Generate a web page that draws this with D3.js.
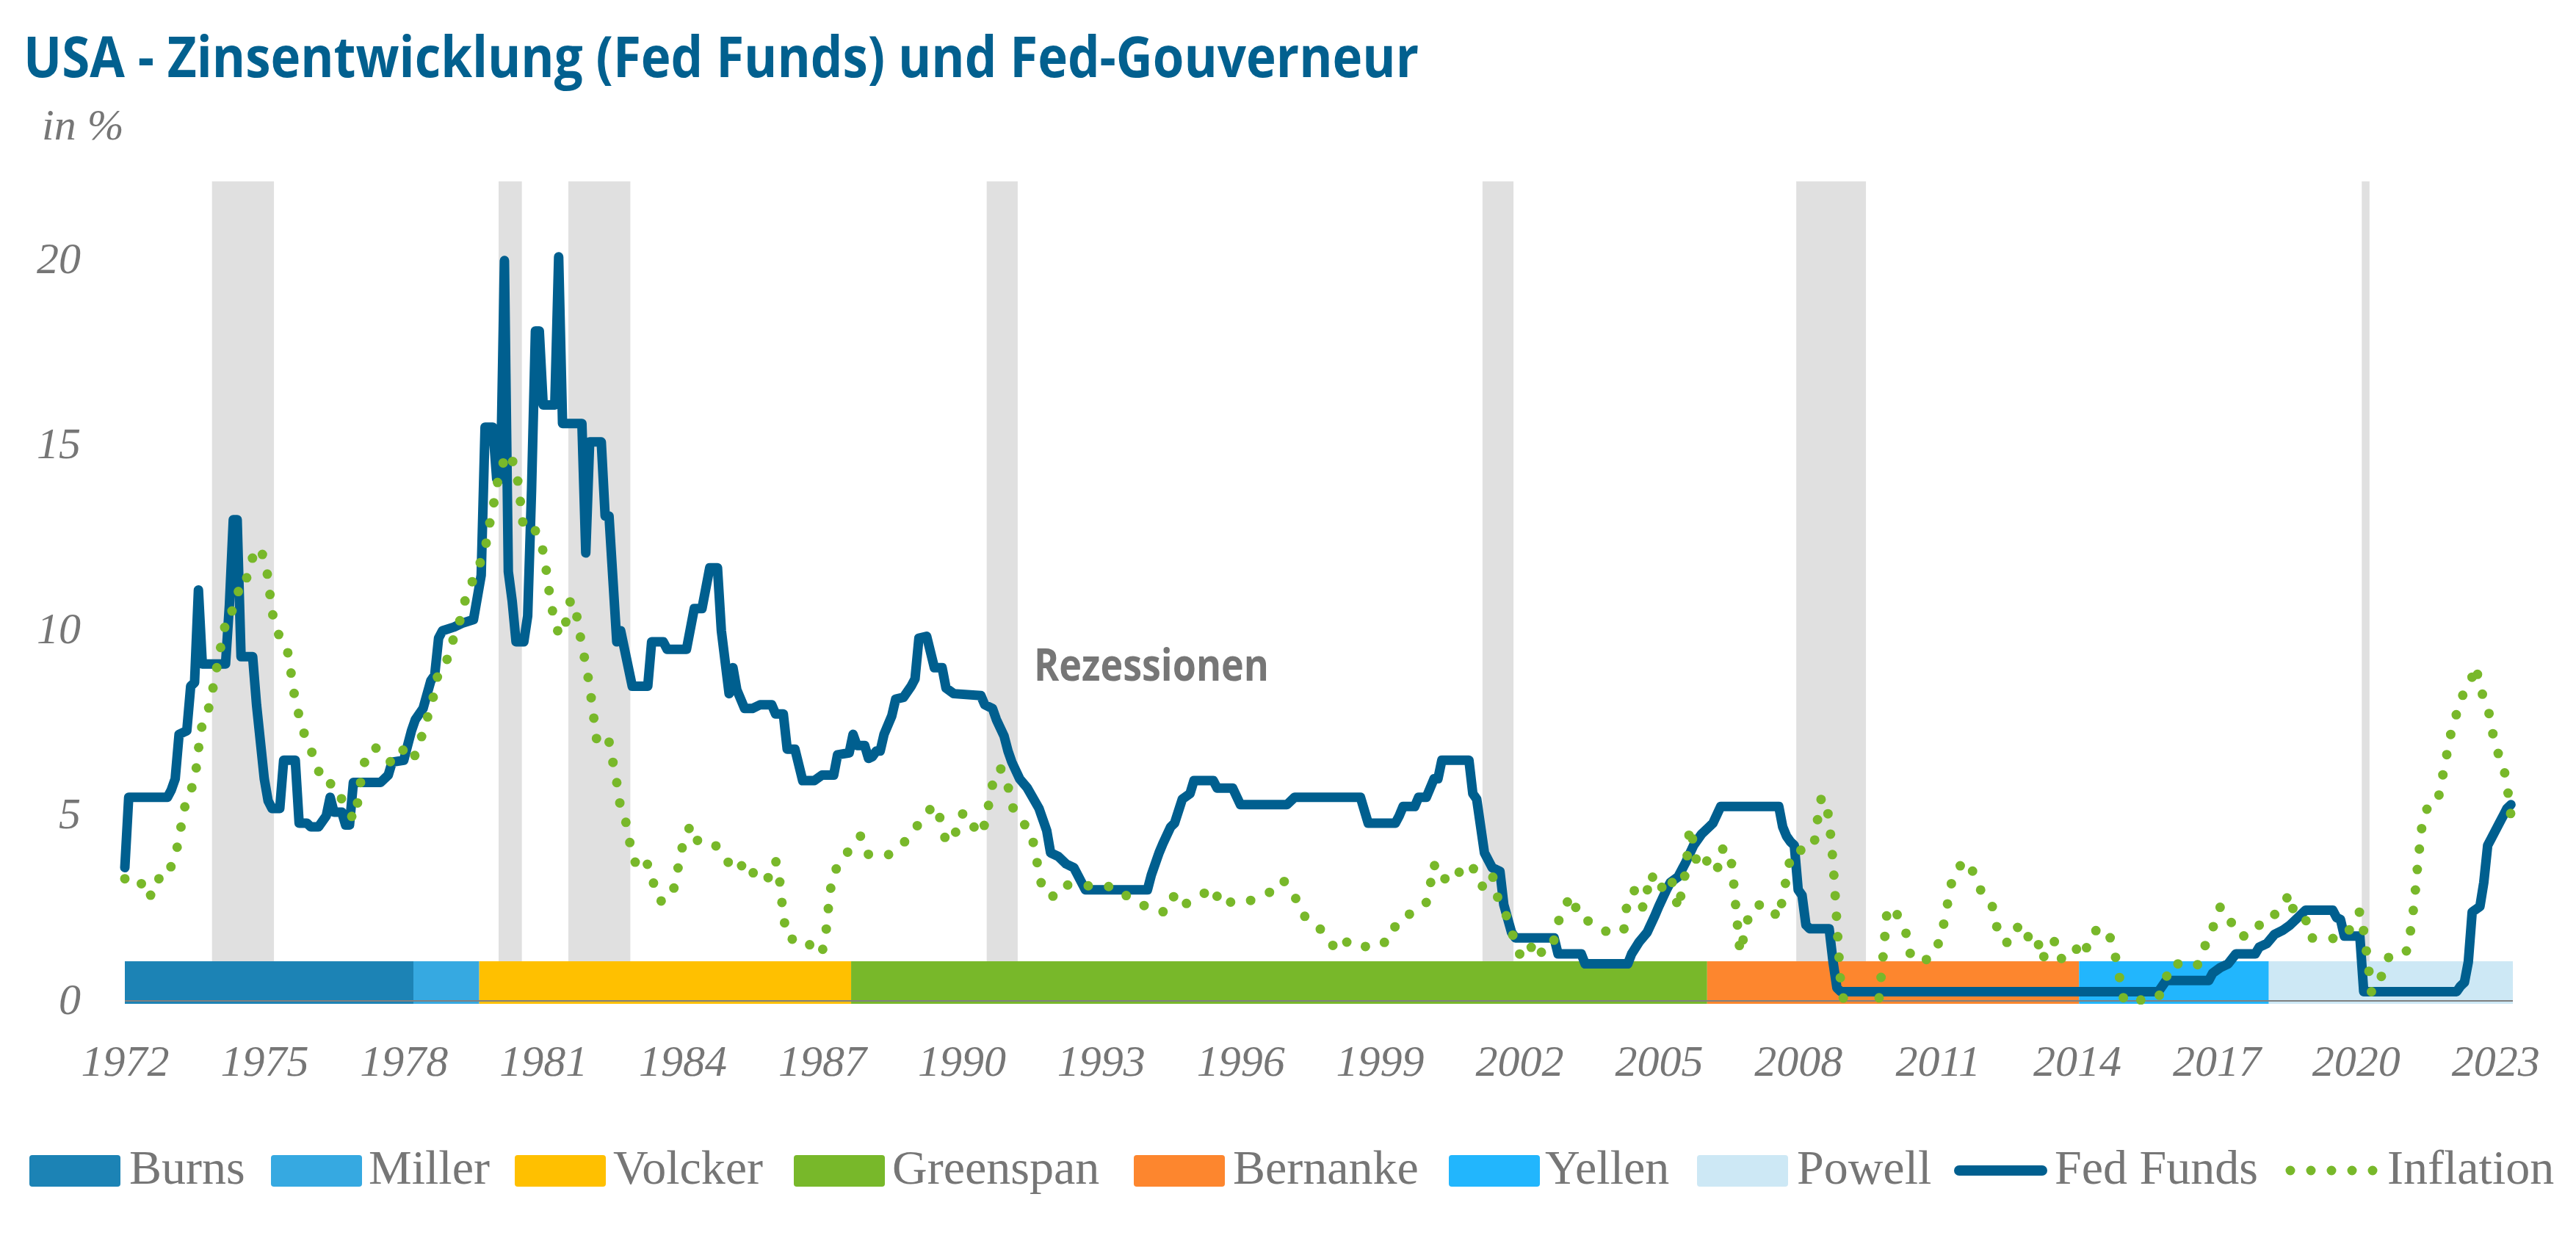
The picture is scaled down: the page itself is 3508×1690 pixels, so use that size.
<!DOCTYPE html>
<html><head><meta charset="utf-8">
<script src="https://cdn.jsdelivr.net/npm/d3@7"></script>
<style>
html,body{margin:0;padding:0;background:#fff;}
svg{display:block;}
</style></head>
<body>
<svg id="chart" width="3508" height="1690"></svg>
<script>
// ---------------- DATA ----------------
const title = "USA - Zinsentwicklung (Fed Funds) und Fed-Gouverneur";
const unitLabel = "in %";
const recessionLabel = "Rezessionen";

const xTickYears = [1972,1975,1978,1981,1984,1987,1990,1993,1996,1999,2002,2005,2008,2011,2014,2017,2020,2023];
const yTicks = [0,5,10,15,20];
const lastMonth = "2023-05";

const governors = ["Burns","Miller","Volcker","Greenspan","Bernanke","Yellen","Powell"];
const governorStart = ["1972-01","1978-04","1979-09","1987-09","2006-02","2014-02","2018-03"];
const governorColors = ["#1c83b5","#36a9e1","#ffc000","#78b82a","#fd862e","#22b6fd","#cde8f5"];
const governorBand = 1.07;

const recessions = [["1973-12","1975-03"],["1980-02","1980-07"],["1981-08","1982-11"],["1990-08","1991-03"],
                    ["2001-04","2001-11"],["2008-01","2009-06"],["2020-03","2020-04"]];

const fedFunds = [
["1972-01",3.6],["1972-02",5.5],["1972-12",5.5],["1973-01",5.7],["1973-02",6.0],["1973-03",7.2],["1973-05",7.3],
["1973-06",8.5],["1973-07",8.6],["1973-08",11.1],["1973-09",9.1],["1974-03",9.1],["1974-04",10.7],["1974-05",13.0],
["1974-06",13.0],["1974-07",9.3],["1974-10",9.3],["1974-11",8.0],["1974-12",7.0],["1975-01",6.0],["1975-02",5.4],
["1975-03",5.2],["1975-05",5.2],["1975-06",6.5],["1975-09",6.5],["1975-10",4.8],["1975-12",4.8],["1976-01",4.7],
["1976-03",4.7],["1976-05",5.0],["1976-06",5.5],["1976-07",5.1],["1976-09",5.1],["1976-10",4.75],["1976-11",4.75],
["1976-12",5.9],["1977-07",5.9],["1977-09",6.1],["1977-10",6.45],["1978-01",6.5],["1978-03",7.3],["1978-04",7.6],
["1978-06",7.9],["1978-08",8.65],["1978-09",8.8],["1978-10",9.8],["1978-11",10.0],["1979-02",10.1],["1979-04",10.2],
["1979-07",10.3],["1979-08",10.9],["1979-09",11.5],["1979-10",15.5],["1979-12",15.5],["1980-01",14.1],["1980-02",14.1],
["1980-03",20.0],["1980-04",11.6],["1980-05",10.8],["1980-06",9.7],["1980-08",9.7],["1980-09",10.4],["1980-10",13.8],
["1980-11",18.1],["1980-12",18.1],["1981-01",16.1],["1981-04",16.1],["1981-05",20.1],["1981-06",15.6],["1981-11",15.6],
["1981-12",12.1],["1982-01",15.1],["1982-04",15.1],["1982-05",13.1],["1982-06",13.1],["1982-08",9.7],["1982-09",10.0],
["1982-12",8.5],["1983-04",8.5],["1983-05",9.7],["1983-08",9.7],["1983-09",9.5],["1984-02",9.5],["1984-04",10.6],
["1984-06",10.6],["1984-08",11.7],["1984-10",11.7],["1984-11",10.0],["1985-01",8.3],["1985-02",9.0],["1985-03",8.4],
["1985-05",7.9],["1985-07",7.9],["1985-09",8.0],["1985-12",8.0],["1986-01",7.75],["1986-03",7.75],["1986-04",6.8],
["1986-06",6.8],["1986-08",5.95],["1986-11",5.95],["1987-01",6.1],["1987-04",6.1],["1987-05",6.65],["1987-08",6.7],
["1987-09",7.2],["1987-10",6.9],["1987-12",6.9],["1988-01",6.55],["1988-02",6.6],["1988-03",6.75],["1988-04",6.75],
["1988-05",7.2],["1988-07",7.7],["1988-08",8.15],["1988-10",8.2],["1988-12",8.5],["1989-01",8.7],["1989-02",9.8],
["1989-04",9.85],["1989-06",9.0],["1989-08",9.0],["1989-09",8.45],["1989-11",8.3],["1990-06",8.25],["1990-07",8.0],
["1990-09",7.9],["1990-10",7.6],["1990-12",7.15],["1991-01",6.75],["1991-02",6.45],["1991-04",6.0],["1991-06",5.75],
["1991-09",5.2],["1991-11",4.6],["1991-12",4.0],["1992-02",3.9],["1992-04",3.7],["1992-06",3.6],["1992-08",3.2],
["1992-09",3.0],["1994-01",3.0],["1994-02",3.4],["1994-04",4.0],["1994-05",4.25],["1994-07",4.7],["1994-08",4.8],
["1994-10",5.45],["1994-12",5.6],["1995-01",5.95],["1995-06",5.95],["1995-07",5.75],["1995-11",5.75],["1996-01",5.3],
["1997-01",5.3],["1997-03",5.5],["1998-08",5.5],["1998-10",4.8],["1999-05",4.8],["1999-06",5.0],["1999-07",5.25],
["1999-10",5.25],["1999-11",5.5],["2000-01",5.5],["2000-03",6.0],["2000-04",6.0],["2000-05",6.5],["2000-12",6.5],
["2001-01",5.6],["2001-02",5.45],["2001-04",4.0],["2001-06",3.6],["2001-08",3.5],["2001-09",2.6],["2001-11",1.85],
["2001-12",1.7],["2002-10",1.7],["2002-11",1.27],["2003-05",1.27],["2003-06",1.0],["2004-05",1.0],["2004-06",1.27],
["2004-08",1.6],["2004-10",1.85],["2004-12",2.3],["2005-01",2.55],["2005-03",3.0],["2005-04",3.2],["2005-06",3.35],
["2005-08",3.75],["2005-10",4.2],["2005-12",4.5],["2006-02",4.7],["2006-03",4.8],["2006-05",5.25],["2007-08",5.25],
["2007-09",4.7],["2007-10",4.45],["2007-11",4.3],["2007-12",4.2],["2008-01",3.0],["2008-02",2.85],["2008-03",2.05],
["2008-04",1.95],["2008-09",1.95],["2008-10",1.05],["2008-11",0.35],["2008-12",0.25],["2015-10",0.25],["2015-12",0.55],
["2016-11",0.55],["2016-12",0.75],["2017-02",0.9],["2017-04",1.0],["2017-06",1.27],["2017-11",1.27],["2017-12",1.45],
["2018-02",1.55],["2018-04",1.8],["2018-06",1.9],["2018-08",2.05],["2018-10",2.25],["2018-12",2.45],["2019-07",2.45],
["2019-08",2.25],["2019-09",2.2],["2019-10",1.75],["2020-02",1.75],["2020-03",0.25],["2022-03",0.25],["2022-04",0.4],
["2022-05",0.5],["2022-06",1.05],["2022-07",2.4],["2022-09",2.55],["2022-10",3.2],["2022-11",4.2],["2022-12",4.4],
["2023-02",4.8],["2023-03",5.0],["2023-04",5.2],["2023-05",5.3]
];

const inflation = [
["1972-01",3.3],["1972-05",3.3],["1972-06",2.8],["1972-09",2.9],["1972-10",3.4],["1972-12",3.4],["1973-02",3.9],
["1973-03",4.4],["1973-04",5.0],["1973-05",5.5],["1973-07",5.9],["1973-08",6.8],["1973-09",7.5],["1973-11",8.0],
["1973-12",8.6],["1974-01",9.15],["1974-02",9.7],["1974-03",10.2],["1974-04",10.2],["1974-05",10.7],["1974-07",11.25],
["1974-08",11.2],["1974-09",11.7],["1974-11",12.25],["1975-01",12.0],["1975-02",11.4],["1975-03",10.5],["1975-05",9.8],
["1975-07",9.45],["1975-08",8.8],["1975-09",8.1],["1975-10",7.7],["1975-11",7.3],["1976-01",6.8],["1976-03",6.2],
["1976-05",6.2],["1976-07",5.6],["1976-08",5.6],["1976-10",5.3],["1976-12",4.9],["1977-01",5.3],["1977-02",6.0],
["1977-03",6.5],["1977-05",6.85],["1977-07",6.8],["1977-10",6.4],["1978-01",6.8],["1978-03",6.5],["1978-05",6.8],
["1978-06",7.35],["1978-08",7.9],["1978-09",8.4],["1978-10",8.9],["1979-01",9.35],["1979-02",9.9],["1979-04",10.4],
["1979-05",10.9],["1979-07",11.4],["1979-09",11.9],["1979-10",12.2],["1979-11",12.8],["1979-12",13.3],["1980-01",13.9],
["1980-02",14.4],["1980-04",14.8],["1980-06",14.4],["1980-07",13.6],["1980-08",12.7],["1980-11",12.7],["1981-01",12.15],
["1981-02",11.5],["1981-03",10.7],["1981-05",9.9],["1981-06",9.9],["1981-07",10.3],["1981-08",10.8],["1981-09",10.8],
["1981-10",10.2],["1981-11",9.6],["1981-12",9.1],["1982-01",8.5],["1982-02",7.7],["1982-03",6.9],["1982-05",6.9],
["1982-06",7.0],["1982-07",6.45],["1982-08",5.9],["1982-09",5.2],["1982-10",5.0],["1982-11",4.5],["1982-12",3.9],
["1983-02",3.5],["1983-04",3.7],["1983-06",3.0],["1983-07",2.7],["1983-09",2.7],["1983-11",3.1],["1983-12",3.7],
["1984-01",4.2],["1984-03",4.75],["1984-05",4.3],["1984-09",4.26],["1984-12",3.9],["1985-02",3.5],["1985-06",3.77],
["1985-08",3.26],["1985-11",3.31],["1986-01",3.8],["1986-02",3.3],["1986-03",2.3],["1986-04",1.7],["1986-06",1.65],
["1986-09",1.66],["1986-11",1.3],["1987-01",1.3],["1987-02",1.85],["1987-03",2.9],["1987-04",3.5],["1987-06",3.7],
["1987-08",4.1],["1987-11",4.46],["1988-01",3.95],["1988-06",3.94],["1988-09",4.16],["1988-12",4.48],["1989-03",4.96],
["1989-06",5.3],["1989-08",4.8],["1989-09",4.26],["1989-12",4.62],["1990-01",5.05],["1990-03",5.05],["1990-05",4.48],
["1990-07",4.76],["1990-08",5.3],["1990-09",5.84],["1990-11",6.3],["1991-01",5.8],["1991-02",5.27],["1991-04",4.9],
["1991-07",4.58],["1991-08",4.0],["1991-09",3.5],["1991-10",2.94],["1991-12",2.83],["1992-02",2.83],["1992-04",3.13],
["1992-08",3.13],["1993-01",3.07],["1993-04",3.1],["1993-07",2.87],["1993-10",2.73],["1994-02",2.44],["1994-06",2.4],
["1994-08",2.87],["1994-10",2.57],["1995-03",2.86],["1995-06",3.07],["1995-08",2.57],["1995-11",2.69],["1996-02",2.66],
["1996-06",2.79],["1996-09",2.96],["1996-12",3.27],["1997-03",2.84],["1997-05",2.32],["1997-08",2.15],["1997-11",1.76],
["1998-02",1.34],["1998-05",1.64],["1998-10",1.44],["1999-02",1.54],["1999-04",2.0],["1999-06",2.0],["1999-09",2.39],
["2000-01",2.66],["2000-02",3.13],["2000-03",3.7],["2000-04",3.3],["2000-06",3.3],["2000-08",3.58],["2000-11",3.37],
["2001-01",3.61],["2001-03",3.1],["2001-04",3.1],["2001-06",3.44],["2001-07",2.89],["2001-09",2.47],["2001-11",1.95],
["2001-12",1.42],["2002-02",1.14],["2002-04",1.46],["2002-06",1.14],["2002-08",1.64],["2002-10",1.64],["2002-11",2.12],
["2003-01",2.63],["2003-03",2.84],["2003-04",2.29],["2003-08",2.1],["2003-10",1.95],["2004-01",1.8],["2004-04",1.92],
["2004-05",2.8],["2004-07",3.01],["2004-09",2.5],["2004-10",2.97],["2004-11",3.44],["2005-01",2.96],["2005-04",3.37],
["2005-05",3.0],["2005-06",2.47],["2005-07",3.0],["2005-08",3.52],["2005-09",4.7],["2005-10",4.25],["2005-11",3.61],
["2006-01",3.8],["2006-02",3.75],["2006-04",3.47],["2006-05",4.1],["2006-07",4.1],["2006-08",3.6],["2006-09",2.4],
["2006-10",1.3],["2006-11",1.75],["2006-12",2.2],["2007-01",2.2],["2007-03",2.6],["2007-05",2.6],["2007-08",2.23],
["2007-09",2.79],["2007-10",3.33],["2007-11",3.88],["2007-12",4.07],["2008-02",4.07],["2008-05",4.15],["2008-06",4.9],
["2008-07",5.5],["2008-08",5.4],["2008-09",4.9],["2008-10",3.75],["2008-11",2.1],["2008-12",0.4],["2009-01",-0.1],
["2009-04",-0.8],["2009-07",-1.5],["2009-09",-0.8],["2009-10",0.2],["2009-11",1.3],["2009-12",2.5],["2010-02",2.45],
["2010-03",2.23],["2010-05",1.79],["2010-06",1.24],["2010-09",1.04],["2010-12",1.25],["2011-02",1.76],["2011-03",2.32],
["2011-04",2.87],["2011-05",3.41],["2011-08",3.8],["2011-10",3.51],["2011-12",3.01],["2012-03",2.61],["2012-04",2.07],
["2012-06",1.58],["2012-08",1.58],["2012-10",2.07],["2012-12",1.71],["2013-02",1.85],["2013-03",1.54],["2013-04",1.09],
["2013-06",1.6],["2013-08",1.6],["2013-09",1.13],["2013-11",1.13],["2014-01",1.42],["2014-03",1.21],["2014-04",1.73],
["2014-07",2.0],["2014-10",1.65],["2014-11",1.14],["2014-12",0.61],["2015-01",0.06],["2015-03",-0.08],["2015-07",0.09],
["2015-10",0.09],["2015-12",0.61],["2016-01",1.0],["2016-03",1.0],["2016-05",0.95],["2016-08",0.95],["2016-10",1.48],
["2016-12",1.96],["2017-02",2.55],["2017-04",2.33],["2017-06",1.81],["2017-08",1.75],["2017-10",2.03],["2018-02",2.06],
["2018-05",2.47],["2018-08",2.9],["2018-09",2.33],["2018-12",2.22],["2019-01",1.7],["2019-06",1.7],["2019-09",1.66],
["2019-12",2.0],["2020-02",2.42],["2020-03",1.88],["2020-04",1.1],["2020-05",0.24],["2020-07",0.36],["2020-08",0.91],
["2020-10",1.28],["2021-02",1.34],["2021-03",1.83],["2021-04",2.6],["2021-05",3.75],["2021-06",4.7],["2021-07",5.16],
["2021-10",5.33],["2021-11",5.87],["2021-12",6.42],["2022-01",6.95],["2022-02",7.49],["2022-04",8.03],["2022-05",8.43],
["2022-07",8.75],["2022-08",9.05],["2022-09",8.44],["2022-11",7.96],["2022-12",7.4],["2023-01",6.86],["2023-03",6.37],
["2023-04",5.83],["2023-05",5.0]
];

const legendItems = ["Burns","Miller","Volcker","Greenspan","Bernanke","Yellen","Powell","Fed Funds","Inflation"];

// ---------------- CHART ----------------
const monthIndex = s => { const [Y, M] = s.split("-").map(Number); return (Y - 1972) * 12 + (M - 1); };
const lastM = monthIndex(lastMonth);

const svg = d3.select("#chart");
const plotLeft = 170, plotTop = 247, plotBottom = 1363;
const x = d3.scaleLinear().domain([0, lastM + 0.5]).range([plotLeft, 3422]);
const y = d3.scaleLinear().domain([0, 22.14]).range([plotBottom, plotTop]);

const textGray = "#767676";
const fedColor = "#005f8f";
const inflColor = "#78b82a";

// title
svg.append("text").attr("x", 32).attr("y", 105)
  .attr("font-family", "'Open Sans', sans-serif").attr("font-weight", 700).attr("font-size", 77)
  .attr("fill", "#02608f").attr("textLength", 1900).attr("lengthAdjust", "spacingAndGlyphs")
  .text(title);

svg.append("text").attr("x", 57).attr("y", 190)
  .attr("font-family", "'Liberation Serif', serif").attr("font-style", "italic").attr("font-size", 60)
  .attr("fill", textGray).text(unitLabel);

// clip
svg.append("defs").append("clipPath").attr("id", "plotclip")
  .append("rect").attr("x", plotLeft - 10).attr("y", plotTop - 20)
  .attr("width", x.range()[1] - plotLeft + 30).attr("height", plotBottom + 5 - (plotTop - 20));

// recessions
svg.append("g").selectAll("rect").data(recessions).join("rect")
  .attr("x", d => x(monthIndex(d[0]) - 0.5))
  .attr("width", d => x(monthIndex(d[1]) + 0.5) - x(monthIndex(d[0]) - 0.5))
  .attr("y", plotTop).attr("height", plotBottom - plotTop)
  .attr("fill", "#e0e0e0");

// governor band
const govData = governors.map((g, i) => ({
  name: g, color: governorColors[i],
  s: Math.max(monthIndex(governorStart[i]) - 0.5, 0),
  e: i < governors.length - 1 ? monthIndex(governorStart[i + 1]) - 0.5 : lastM + 0.5
}));
svg.append("g").selectAll("rect").data(govData).join("rect")
  .attr("x", d => x(d.s)).attr("width", d => x(d.e) - x(d.s))
  .attr("y", y(governorBand)).attr("height", plotBottom + 4 - y(governorBand))
  .attr("fill", d => d.color);

// baseline
svg.append("line").attr("x1", plotLeft).attr("x2", x.range()[1])
  .attr("y1", plotBottom).attr("y2", plotBottom)
  .attr("stroke", "#808080").attr("stroke-width", 2);

// y axis
const yAxis = svg.append("g").attr("transform", "translate(110,0)")
  .call(d3.axisLeft(y).tickValues(yTicks).tickSize(0).tickPadding(0).tickFormat(d3.format("d")));
yAxis.select(".domain").remove();
yAxis.selectAll("text").attr("x", 0).attr("dy", 17)
  .attr("font-family", "'Liberation Serif', serif").attr("font-style", "italic").attr("font-size", 60)
  .attr("fill", textGray);

// x axis
const xAxis = svg.append("g").attr("transform", "translate(0,1465)")
  .call(d3.axisBottom(x).tickValues(xTickYears.map(yr => (yr - 1972) * 12))
    .tickSize(0).tickPadding(0).tickFormat(m => String(1972 + m / 12)));
xAxis.select(".domain").remove();
xAxis.selectAll("text").attr("y", 0).attr("dy", 0)
  .attr("font-family", "'Liberation Serif', serif").attr("font-style", "italic").attr("font-size", 60)
  .attr("fill", textGray);

// lines
const line = d3.line().x(d => x(monthIndex(d[0]))).y(d => y(d[1]));
const plotG = svg.append("g").attr("clip-path", "url(#plotclip)");
plotG.append("path").datum(fedFunds).attr("d", line)
  .attr("fill", "none").attr("stroke", fedColor).attr("stroke-width", 13)
  .attr("stroke-linejoin", "round").attr("stroke-linecap", "round");
plotG.append("path").datum(inflation).attr("d", line)
  .attr("fill", "none").attr("stroke", inflColor).attr("stroke-width", 13)
  .attr("stroke-linecap", "round").attr("stroke-dasharray", "0 28");

// recession label
svg.append("text").attr("x", 1408).attr("y", 927)
  .attr("font-family", "'Open Sans', sans-serif").attr("font-weight", 700).attr("font-size", 60)
  .attr("fill", textGray).attr("textLength", 320).attr("lengthAdjust", "spacingAndGlyphs")
  .text(recessionLabel);

// legend
const legendX = [40, 369, 701, 1081, 1544, 1973, 2311, 2661, 3113];
const legendTextOffset = [136, 133, 134, 134, 135, 131, 136, 137, 138];
const lg = svg.append("g");
legendItems.forEach((name, i) => {
  const lx = legendX[i];
  if (i < governors.length) {
    lg.append("rect").attr("x", lx).attr("y", 1573).attr("width", 124).attr("height", 43)
      .attr("rx", 4).attr("fill", governorColors[i]);
  } else if (name === "Fed Funds") {
    lg.append("line").attr("x1", lx + 7).attr("x2", lx + 120).attr("y1", 1594).attr("y2", 1594)
      .attr("stroke", fedColor).attr("stroke-width", 14).attr("stroke-linecap", "round");
  } else {
    lg.append("line").attr("x1", lx + 6).attr("x2", lx + 125).attr("y1", 1594).attr("y2", 1594)
      .attr("stroke", inflColor).attr("stroke-width", 13).attr("stroke-linecap", "round")
      .attr("stroke-dasharray", "0 28");
  }
  lg.append("text").attr("x", lx + legendTextOffset[i]).attr("y", 1612)
    .attr("font-family", "'Liberation Serif', serif").attr("font-size", 66)
    .attr("fill", textGray).text(name);
});
</script>
</body></html>
